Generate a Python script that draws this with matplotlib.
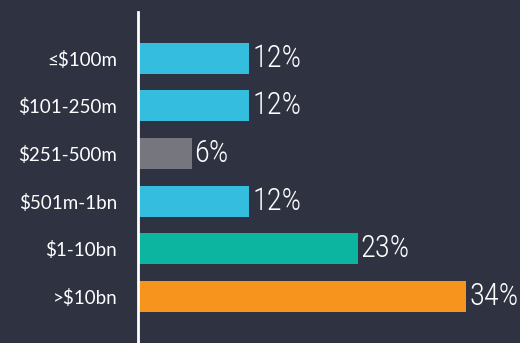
import matplotlib.pyplot as plt

categorias = ['≤$100m', '$101-250m', '$251-500m', '$501m-1bn', '$1-10bn', '>$10bn']
valores = [11.6, 11.6, 5.6, 11.6, 22.9, 34.2]
rotulos = ['12%', '12%', '6%', '12%', '23%', '34%']
cores = ['#35bde0', '#35bde0', '#76767f', '#35bde0', '#0bb5a0', '#f7941e']

fundo = '#2e3241'

fig = plt.figure(figsize=(5.2, 3.43), dpi=100, facecolor=fundo)
ax = fig.add_axes([138/520, 0, 382/520, 331/343], facecolor=fundo)

pos = range(len(categorias))
ax.barh(pos, valores, height=0.65, color=cores)

for p, v, r in zip(pos, valores, rotulos):
    ax.annotate(r, (v, p), xytext=(2, 0), textcoords='offset points',
                va='center', ha='left', color='white', fontsize=22,
                family='Roboto Condensed', weight='light')

ax.set_xlim(0, 382/9.6)
ax.set_ylim(5.98, -0.97)
ax.set_yticks(list(pos))
ax.set_yticklabels(categorias, color='white', fontsize=13.5, family='Lato')
ax.tick_params(axis='y', length=0, pad=15)
ax.set_xticks([])

for lado in ['top', 'right', 'bottom']:
    ax.spines[lado].set_visible(False)
ax.spines['left'].set_color('white')
ax.spines['left'].set_linewidth(2)

fig.savefig('out.png', dpi=100, facecolor=fundo)
